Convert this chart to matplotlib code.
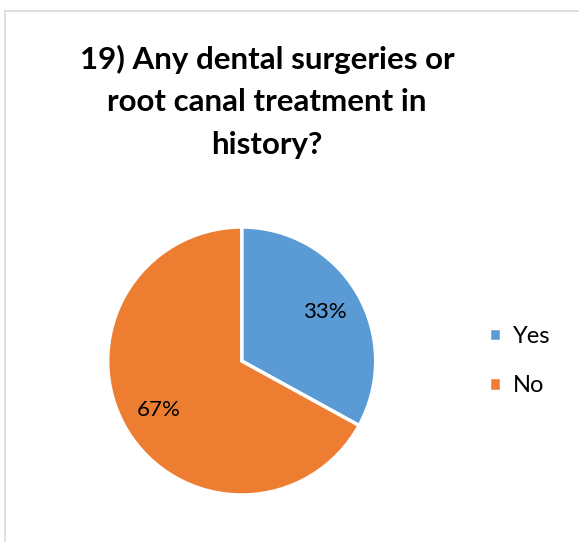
import matplotlib
matplotlib.use("Agg")
import matplotlib.pyplot as plt
from matplotlib.patches import Rectangle

title = "19) Any dental surgeries or\nroot canal treatment in\nhistory?"
labels = ["Yes", "No"]
values = [33, 67]
colors = ["#5B9BD5", "#ED7D31"]

W, H = 579, 542
fig = plt.figure(figsize=(W / 100, H / 100), dpi=100)
plt.rcParams['font.family'] = ['Lato', 'DejaVu Sans']

# chart frame (only left and top edges show in the crop)
fig.patches.append(Rectangle((5 / W, -0.1), 2, (H - 11) / H + 0.1, transform=fig.transFigure,
                             fill=False, edgecolor="#d9d9d9", linewidth=1.2))

fig.text(267 / W, 1 - 45 / H, title, ha="center", va="top", multialignment="center",
         fontsize=22.5, fontweight="bold", linespacing=1.62, color="black")

cx, cy, r = 241.7, 361, 134
ax = fig.add_axes([(cx - r) / W, (H - cy - r) / H, 2 * r / W, 2 * r / H])
wedges, texts, autotexts = ax.pie(values, colors=colors, startangle=90, counterclock=False,
                                  autopct=lambda p: "%d%%" % round(p), pctdistance=0.72,
                                  wedgeprops=dict(edgecolor="white", linewidth=2.5),
                                  textprops=dict(fontsize=16, color="black"))
ax.set_xlim(-1, 1)
ax.set_ylim(-1, 1)

fig.legend(wedges, labels, loc="center left", bbox_to_anchor=(468 / W, 1 - 361 / H),
           frameon=False, fontsize=17, handlelength=0.5, handleheight=0.5,
           handletextpad=0.5, labelspacing=1.2)

fig.savefig("out.png", dpi=100)
